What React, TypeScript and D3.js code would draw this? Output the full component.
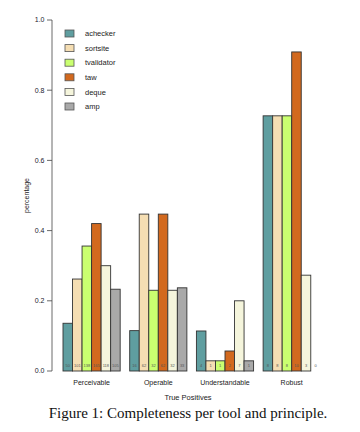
import React from "react"
import * as d3 from "d3"

// principles along the x axis
const principles = ["Perceivable", "Operable", "Understandable", "Robust"]
const tools = ["achecker", "sortsite", "tvalidator", "taw", "deque", "amp"]
const toolColors = ["#5f9ea0", "#f5deb3", "#caff70", "#d2691e", "#f5f5dc", "#a9a9a9"]

// share of true positives found, per principle, one entry per tool
const perceivable = [0.136, 0.262, 0.356, 0.42, 0.3, 0.233]
const operable = [0.115, 0.447, 0.23, 0.447, 0.23, 0.237]
const understandable = [0.114, 0.029, 0.029, 0.057, 0.2, 0.029]
const robust = [0.727, 0.727, 0.727, 0.909, 0.273, 0]

// counts printed at the foot of each bar
const perceivableCounts = ["50", "101", "138", "165", "118", "105"]
const operableCounts = ["16", "62", "32", "62", "32", "33"]
const understandableCounts = ["4", "1", "1", "2", "7", "1"]
const robustCounts = ["8", "8", "8", "10", "3", "0"]

const yTicks = [0, 0.2, 0.4, 0.6, 0.8, 1.0]

const values = [perceivable, operable, understandable, robust]
const counts = [perceivableCounts, operableCounts, understandableCounts, robustCounts]

const sans = "'Liberation Sans', Arial, Helvetica, sans-serif"

export default function App() {
    const width = 360
    const height = 432
    const axisX = 52
    const [yTop, yBottom] = [20, 371]

    const y = d3.scaleLinear().domain([0, 1]).range([yBottom, yTop])
    const x0 = d3.scaleBand().domain(principles).range([63, 320.3]).paddingInner(1 / 7).paddingOuter(0)
    const x1 = d3.scaleBand().domain(tools).range([0, x0.bandwidth()]).padding(0)
    const color = d3.scaleOrdinal<string, string>().domain(tools).range(toolColors)

    return (
        <svg width={width} height={height} style={{ position: "absolute", left: 0, top: 0, background: "#fff" }}>
            {/* y axis */}
            <line x1={axisX} x2={axisX} y1={y(0)} y2={y(1)} stroke="#444" strokeWidth={0.8} />
            {yTicks.map((t) => (
                <g key={t} transform={`translate(0,${y(t)})`}>
                    <line x1={axisX - 5} x2={axisX} stroke="#444" strokeWidth={0.8} />
                    <text x={axisX - 7.5} dy="0.35em" textAnchor="end" fontSize={7} fontFamily={sans} fill="#1a1a2e">
                        {t.toFixed(1)}
                    </text>
                </g>
            ))}
            <text transform={`translate(29,${y(0.5)}) rotate(-90)`} textAnchor="middle" fontSize={7} fontFamily={sans} fill="#222">
                percentage
            </text>

            {/* bars */}
            {principles.map((p, gi) => (
                <g key={p} transform={`translate(${x0(p)},0)`}>
                    {tools.map((tool, ti) => {
                        const v = values[gi][ti]
                        const bx = x1(tool) as number
                        return (
                            <g key={tool}>
                                <rect
                                    x={bx}
                                    y={y(v)}
                                    width={x1.bandwidth()}
                                    height={y(0) - y(v)}
                                    fill={color(tool)}
                                    stroke={v > 0 ? "#333" : "#999"}
                                    strokeWidth={0.9}
                                />
                                <text
                                    x={bx + x1.bandwidth() / 2}
                                    y={y(0) - 4}
                                    textAnchor="middle"
                                    fontSize={4}
                                    fontFamily={sans}
                                    fill="#555"
                                >
                                    {counts[gi][ti]}
                                </text>
                            </g>
                        )
                    })}
                    <text x={x0.bandwidth() / 2} y={385} textAnchor="middle" fontSize={7} fontFamily={sans} fill="#222">
                        {p}
                    </text>
                </g>
            ))}

            <text x={188} y={400} textAnchor="middle" fontSize={7.5} fontFamily={sans} fill="#222">
                True Positives
            </text>

            {/* legend */}
            {tools.map((tool, i) => (
                <g key={tool} transform={`translate(65,${30 + i * 14.6})`}>
                    <rect width={9} height={7} fill={color(tool)} stroke="#555" strokeWidth={0.8} />
                    <text x={20} y={3.5} dy="0.35em" fontSize={7.5} fontFamily={sans} fill="#222">
                        {tool}
                    </text>
                </g>
            ))}

            <text x={188} y={418} textAnchor="middle" fontSize={15} fontFamily="'Liberation Serif', 'Times New Roman', serif" fill="#111">
                Figure 1: Completeness per tool and principle.
            </text>
        </svg>
    )
}
